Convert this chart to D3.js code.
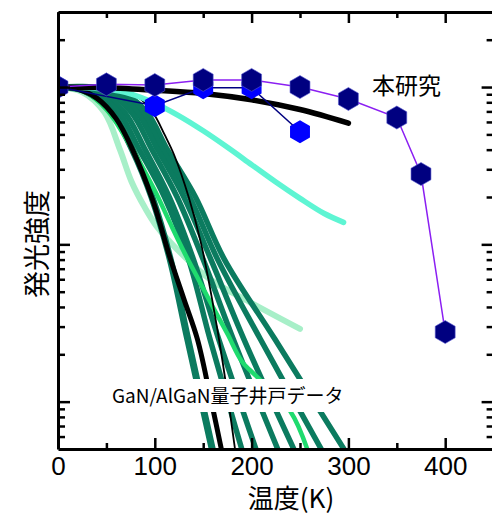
<!DOCTYPE html>
<html>
<head>
<meta charset="utf-8">
<script src="https://cdn.jsdelivr.net/npm/d3@7"></script>
<style>
  body { margin: 0; background: #fff; }
  svg { display: block; }
  .jp { font-family: "Noto Sans CJK JP", "Noto Sans", sans-serif; }
  .num { font-family: "Liberation Sans", Arial, sans-serif; }
</style>
</head>
<body>
<script>
// axis ticks
var xMajor = [0, 100, 200, 300, 400];
var xMinor = [50, 150, 250, 350];
var yMajor = [0.01, 0.1, 1];
var yMinor = [0.006, 0.007, 0.008, 0.009, 0.02, 0.03, 0.04, 0.05, 0.06, 0.07, 0.08, 0.09,
              0.2, 0.3, 0.4, 0.5, 0.6, 0.7, 0.8, 0.9, 2];

// this work (two runs)
var thisWork = [[0, 1], [50, 1.04], [100, 1.03], [150, 1.11], [200, 1.11], [250, 1.0],
                [300, 0.84], [350, 0.64], [375, 0.28], [400, 0.0277]];
var thisWork2 = [[0, 1], [100, 0.76], [150, 0.99], [200, 0.99], [250, 0.52]];

// GaN/AlGaN quantum well data
var blackFlat = [[0, 1], [50, 0.99], [100, 0.955], [150, 0.91], [200, 0.83], [250, 0.72], [300, 0.59]];
var blackSteep = [[0, 1], [20, 0.97], [40, 0.85], [60, 0.63], [77, 0.4], [98, 0.19], [115, 0.085],
                  [130, 0.045], [144, 0.025], [157, 0.011], [172, 0.004]];
var blackThin = [[0, 1], [25, 1], [50, 0.98], [75, 0.92], [90, 0.79], [100, 0.66], [110, 0.5],
                 [120, 0.37], [135, 0.2], [148, 0.1], [160, 0.042], [170, 0.018], [185, 0.004]];
var turquoise = [[0, 1], [25, 0.993], [50, 0.97], [75, 0.906], [100, 0.789], [125, 0.656], [150, 0.527],
                 [175, 0.414], [200, 0.321], [225, 0.249], [250, 0.196], [275, 0.157], [295, 0.138]];
var mint = [[0, 1], [25, 0.93], [48, 0.69], [64, 0.4], [76, 0.25], [90, 0.17], [102, 0.13],
            [123, 0.093], [157, 0.06], [198, 0.043], [250, 0.029]];
var brightGreen = [[0, 1], [25, 0.95], [50, 0.72], [75, 0.42], [100, 0.22], [115, 0.14], [130, 0.09],
                   [145, 0.06], [160, 0.04], [175, 0.027], [190, 0.018], [205, 0.0145], [240, 0.0087],
                   [260, 0.0045]];
var teal1 = [[0, 1], [27, 0.95], [55, 0.7], [77, 0.4], [97, 0.2], [116, 0.08], [134, 0.025], [161, 0.0045]];
var teal2 = [[0, 1], [34, 0.95], [62, 0.7], [84, 0.4], [110, 0.2], [135, 0.08], [157, 0.025], [192, 0.0045]];
var teal3 = [[0, 1], [40, 0.95], [68, 0.7], [90, 0.4], [115, 0.2], [140, 0.08], [166, 0.025], [207, 0.0045]];
var teal4 = [[0, 1], [47, 0.95], [75, 0.7], [97, 0.4], [123, 0.2], [150, 0.08], [181, 0.025], [230, 0.0045]];
var teal5 = [[0, 1], [53, 0.95], [81, 0.7], [103, 0.4], [130, 0.2], [158, 0.08], [192, 0.025], [247, 0.0045]];
var teal6 = [[0, 1], [58, 0.95], [86, 0.7], [108, 0.4], [136, 0.2], [165, 0.08], [209, 0.025], [276, 0.0045]];
var teal7 = [[0, 1], [63, 0.95], [91, 0.7], [113, 0.4], [142, 0.2], [172, 0.08], [224, 0.025], [300, 0.0045]];

var width = 492, height = 518;
// plot box (note: "top" is taken by window.top)
var boxLeft = 58, boxRight = 493.6, boxTop = 12, boxBottom = 449;

var x = d3.scaleLinear().domain([0, 450]).range([boxLeft, boxRight]);
var y = d3.scaleLog().domain([0.005, 3]).range([boxBottom, boxTop]);

var svg = d3.select("body").append("svg")
    .attr("width", width)
    .attr("height", height);

svg.append("clipPath").attr("id", "plot")
  .append("rect")
    .attr("x", boxLeft).attr("y", boxTop)
    .attr("width", boxRight - boxLeft).attr("height", boxBottom - boxTop);

var line = d3.line()
    .x(function(d) { return x(d[0]); })
    .y(function(d) { return y(d[1]); })
    .curve(d3.curveCatmullRom.alpha(0.5));

var plot = svg.append("g").attr("clip-path", "url(#plot)");

function drawLine(data, color, w) {
  plot.append("path")
      .attr("d", line(data))
      .attr("fill", "none")
      .attr("stroke", color)
      .attr("stroke-width", w)
      .attr("stroke-linecap", "round");
}

var teal = "#0b7b5f";
drawLine(mint, "#a7efc8", 6);
[teal7, teal6, teal5, teal4, teal3, teal2].forEach(function(d) { drawLine(d, teal, 5.5); });
drawLine(teal1, teal, 7);
drawLine(brightGreen, "#1fdb6e", 4.5);
drawLine(blackSteep, "#000", 5);
drawLine(blackThin, "#000", 1.8);
drawLine(turquoise, "#5ef5d3", 5.5);
drawLine(blackFlat, "#000", 5.5);

// white box behind the QW label
plot.append("rect")
    .attr("x", 107).attr("y", 379)
    .attr("width", 240).attr("height", 33)
    .attr("fill", "#fff");

// this work
var hex = d3.symbol().type({
  draw: function(ctx, size) {
    var r = Math.sqrt(size);
    for (var i = 0; i < 6; i++) {
      var a = Math.PI / 3 * i - Math.PI / 2;
      if (i === 0) ctx.moveTo(r * Math.cos(a), r * Math.sin(a));
      else ctx.lineTo(r * Math.cos(a), r * Math.sin(a));
    }
    ctx.closePath();
  }
}).size(11.5 * 11.5);

var straight = d3.line()
    .x(function(d) { return x(d[0]); })
    .y(function(d) { return y(d[1]); });

plot.append("path")
    .attr("d", straight(thisWork2))
    .attr("fill", "none").attr("stroke", "#000080").attr("stroke-width", 1.5);
plot.selectAll(".hex2")
    .data(thisWork2)
    .enter().append("path")
    .attr("class", "hex2")
    .attr("d", hex)
    .attr("transform", function(d) { return "translate(" + x(d[0]) + "," + y(d[1]) + ")"; })
    .attr("fill", "#0000ff");

plot.append("path")
    .attr("d", straight(thisWork))
    .attr("fill", "none").attr("stroke", "#8b1ff2").attr("stroke-width", 1.5);
plot.selectAll(".hex1")
    .data(thisWork)
    .enter().append("path")
    .attr("class", "hex1")
    .attr("d", hex)
    .attr("transform", function(d) { return "translate(" + x(d[0]) + "," + y(d[1]) + ")"; })
    .attr("fill", "#000080")
    .attr("stroke", "#5b5bd0").attr("stroke-width", 0.6);

// axes, ticks pointing inward
function styleAxis(g) {
  g.select(".domain").attr("stroke-width", 3);
  g.selectAll(".tick line").attr("stroke-width", 2.5);
}

svg.append("g")
    .attr("transform", "translate(0," + boxBottom + ")")
    .call(d3.axisBottom(x).tickValues(xMajor).tickSize(-11).tickSizeOuter(0).tickPadding(8))
    .call(styleAxis)
    .call(function(g) {
      g.selectAll("text").attr("class", "num").attr("font-size", 26).attr("fill", "#000");
    });
svg.append("g")
    .attr("transform", "translate(0," + boxBottom + ")")
    .call(d3.axisBottom(x).tickValues(xMinor).tickSize(-6).tickFormat(""))
    .call(styleAxis)
    .call(function(g) { g.select(".domain").remove(); });

svg.append("g")
    .attr("transform", "translate(0," + boxTop + ")")
    .call(d3.axisTop(x).tickValues(xMajor).tickSize(-11).tickSizeOuter(0).tickFormat(""))
    .call(styleAxis);
svg.append("g")
    .attr("transform", "translate(0," + boxTop + ")")
    .call(d3.axisTop(x).tickValues(xMinor).tickSize(-6).tickFormat(""))
    .call(styleAxis)
    .call(function(g) { g.select(".domain").remove(); });

svg.append("g")
    .attr("transform", "translate(" + boxLeft + ",0)")
    .call(d3.axisLeft(y).tickValues(yMajor).tickSize(-12).tickSizeOuter(0).tickFormat(""))
    .call(styleAxis);
svg.append("g")
    .attr("transform", "translate(" + boxLeft + ",0)")
    .call(d3.axisLeft(y).tickValues(yMinor).tickSize(-7).tickFormat(""))
    .call(styleAxis)
    .call(function(g) { g.select(".domain").remove(); });

svg.append("g")
    .attr("transform", "translate(" + boxRight + ",0)")
    .call(d3.axisRight(y).tickValues(yMajor).tickSize(-12).tickSizeOuter(0).tickFormat(""))
    .call(styleAxis);
svg.append("g")
    .attr("transform", "translate(" + boxRight + ",0)")
    .call(d3.axisRight(y).tickValues(yMinor).tickSize(-7).tickFormat(""))
    .call(styleAxis)
    .call(function(g) { g.select(".domain").remove(); });

// labels
svg.append("text")
    .attr("class", "jp")
    .attr("x", 291).attr("y", 508)
    .attr("text-anchor", "middle")
    .attr("font-size", 26)
    .text("温度(K)");

svg.append("text")
    .attr("class", "jp")
    .attr("transform", "translate(35,244) rotate(-90)")
    .attr("text-anchor", "middle")
    .attr("dominant-baseline", "central")
    .attr("font-size", 27)
    .text("発光強度");

svg.append("text")
    .attr("class", "jp")
    .attr("x", 372).attr("y", 94)
    .attr("font-size", 23)
    .text("本研究");

svg.append("text")
    .attr("class", "jp")
    .attr("x", 112).attr("y", 403)
    .attr("font-size", 19)
    .text("GaN/AlGaN量子井戸データ");
</script>
</body>
</html>
